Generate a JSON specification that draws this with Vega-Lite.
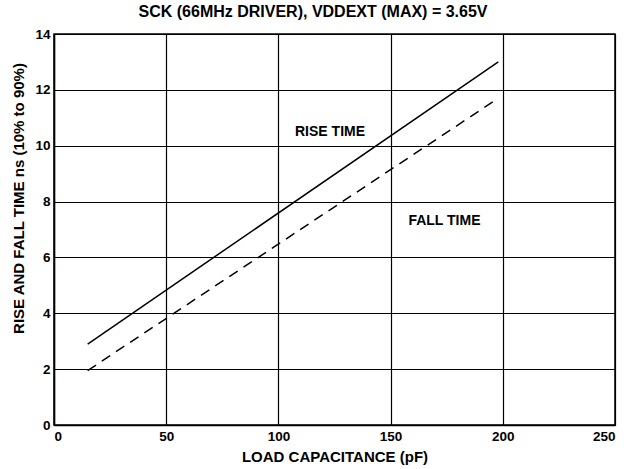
{
  "$schema": "https://vega.github.io/schema/vega-lite/v6.json",
  "width": 561,
  "height": 391,
  "autosize": {"type": "none"},
  "padding": {"left": 54, "top": 34, "right": 14, "bottom": 44},
  "background": "white",
  "title": {
    "text": "SCK (66MHz DRIVER), VDDEXT (MAX) = 3.65V",
    "font": "Liberation Sans",
    "fontSize": 16,
    "fontWeight": "bold",
    "color": "black",
    "frame": "bounds",
    "offset": 7
  },
  "config": {
    "view": {"stroke": "black", "strokeWidth": 1.5},
    "axis": {
      "labelFont": "Liberation Sans",
      "labelFontSize": 13.5,
      "labelFontWeight": "bold",
      "labelColor": "black",
      "titleFont": "Liberation Sans",
      "titleFontSize": 15,
      "titleFontWeight": "bold",
      "titleColor": "black",
      "grid": true,
      "gridColor": "black",
      "gridOpacity": 1,
      "gridWidth": 1.2,
      "domainColor": "black",
      "domainWidth": 1.5,
      "ticks": false
    }
  },
  "datasets": {
    "lines": [
      {"cap": 15, "t": 2.9, "series": "RISE"},
      {"cap": 198, "t": 13.0, "series": "RISE"},
      {"cap": 15, "t": 1.95, "series": "FALL"},
      {"cap": 198, "t": 11.7, "series": "FALL"}
    ],
    "labels": [
      {"cap": 123, "t": 10.5, "label": "RISE TIME"},
      {"cap": 174, "t": 7.3, "label": "FALL TIME"}
    ]
  },
  "layer": [
    {
      "data": {"name": "lines"},
      "mark": {"type": "line", "color": "black", "strokeWidth": 1.5},
      "transform": [{"filter": "datum.series === 'RISE'"}],
      "encoding": {
        "x": {"field": "cap", "type": "quantitative", "scale": {"domain": [0, 250], "nice": false},
              "axis": {"values": [0, 50, 100, 150, 200, 250], "title": "LOAD CAPACITANCE (pF)", "labelPadding": 4, "titlePadding": 7}},
        "y": {"field": "t", "type": "quantitative", "scale": {"domain": [0, 14], "nice": false},
              "axis": {"values": [0, 2, 4, 6, 8, 10, 12, 14], "title": "RISE AND FALL TIME ns  (10% to 90%)", "labelPadding": 4, "titleX": -28, "titleY": 164, "titleAlign": "center", "titleAngle": 270, "titleBaseline": "bottom"}}
      }
    },
    {
      "data": {"name": "lines"},
      "mark": {"type": "line", "color": "black", "strokeWidth": 1.5, "strokeDash": [10, 7]},
      "transform": [{"filter": "datum.series === 'FALL'"}],
      "encoding": {
        "x": {"field": "cap", "type": "quantitative"},
        "y": {"field": "t", "type": "quantitative"}
      }
    },
    {
      "data": {"name": "labels"},
      "mark": {"type": "text", "font": "Liberation Sans", "fontSize": 14, "fontWeight": "bold", "color": "black"},
      "encoding": {
        "x": {"field": "cap", "type": "quantitative"},
        "y": {"field": "t", "type": "quantitative"},
        "text": {"field": "label"}
      }
    }
  ]
}
